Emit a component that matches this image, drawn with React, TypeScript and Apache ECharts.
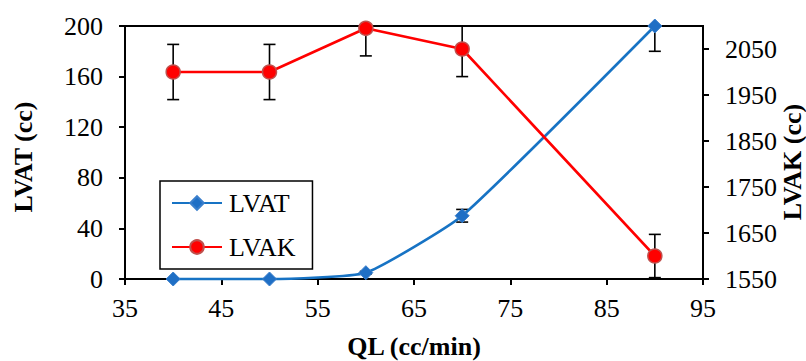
import React, { useEffect, useRef } from "react";
import * as echarts from "echarts";

const FONT = "'Liberation Serif', 'Times New Roman', serif";

const xValues = [40, 50, 60, 70, 90];
const lvatValues = [0, 0, 5, 50, 200];
const lvatErrors = [0, 0, 1, 5, 20];
const lvakValues = [2000, 2000, 2095, 2050, 1600];
const lvakErrors = [60, 60, 60, 60, 47];

const xTicks = [35, 45, 55, 65, 75, 85, 95];
const leftTicks = [0, 40, 80, 120, 160, 200];
const rightTicks = [1550, 1650, 1750, 1850, 1950, 2050];

const X_MIN = 35;
const X_MAX = 95;
const L_MIN = 0;
const L_MAX = 200;
const R_MIN = 1550;
const R_MAX = 2100;

function errorSeries(vals: number[], errs: number[], yAxisIndex: number, yMin: number, yMax: number) {
  return {
    type: "custom",
    yAxisIndex,
    z: 1,
    silent: true,
    data: xValues.map((x, i) => [x, vals[i], errs[i]]),
    renderItem: (params: any, api: any) => {
      const x = api.value(0);
      const y = api.value(1);
      const e = api.value(2);
      if (!e) return { type: "group", children: [] };
      const hi = Math.min(y + e, yMax);
      const lo = Math.max(y - e, yMin);
      const top = api.coord([x, hi]);
      const bot = api.coord([x, lo]);
      const half = 6;
      const st = { stroke: "#000", lineWidth: 1.6 };
      const children: any[] = [
        { type: "line", shape: { x1: top[0], y1: top[1], x2: bot[0], y2: bot[1] }, style: st },
      ];
      if (y + e <= yMax) {
        children.push({ type: "line", shape: { x1: top[0] - half, y1: top[1], x2: top[0] + half, y2: top[1] }, style: st });
      }
      if (y - e >= yMin) {
        children.push({ type: "line", shape: { x1: bot[0] - half, y1: bot[1], x2: bot[0] + half, y2: bot[1] }, style: st });
      }
      return { type: "group", children };
    },
  };
}

export default function App() {
  const ref = useRef<HTMLDivElement>(null);
  useEffect(() => {
    if (!ref.current) return;
    const chart = echarts.init(ref.current, null, { renderer: "svg" });
    const axisLineStyle = { color: "#000", width: 2 };
    const labelStyle = { fontFamily: FONT, fontSize: 26, color: "#000", formatter: (v: number) => String(v) };
    chart.setOption({
      animation: false,
      backgroundColor: "#fff",
      grid: {
        left: 125,
        right: 103,
        top: 26,
        bottom: 82,
        show: true,
        borderColor: "#000",
        borderWidth: 2,
        containLabel: false,
      },
      legend: {
        orient: "vertical",
        left: 160,
        top: 181,
        data: ["LVAT", "LVAK"],
        padding: [9, 17, 9, 11],
        itemGap: 18,
        itemWidth: 50,
        itemHeight: 17,
        borderColor: "#000",
        borderWidth: 1.5,
        backgroundColor: "#fff",
        textStyle: { fontFamily: FONT, fontSize: 26, color: "#000", lineHeight: 24, padding: [0, 0, 0, 2] },
      },
      xAxis: {
        type: "value",
        min: X_MIN,
        max: X_MAX,
        interval: 10,
        axisLine: { show: true, lineStyle: axisLineStyle },
        axisTick: { show: true, length: 6, inside: false, lineStyle: axisLineStyle, customValues: xTicks },
        axisLabel: { ...labelStyle, margin: 16, customValues: xTicks },
        splitLine: { show: false },
      },
      yAxis: [
        {
          type: "value",
          position: "left",
          min: L_MIN,
          max: L_MAX,
          interval: 40,
          axisLine: { show: true, lineStyle: axisLineStyle },
          axisTick: { show: true, length: 6, inside: false, lineStyle: axisLineStyle, customValues: leftTicks },
          axisLabel: { ...labelStyle, margin: 22, customValues: leftTicks },
          splitLine: { show: false },
        },
        {
          type: "value",
          position: "right",
          min: R_MIN,
          max: R_MAX,
          interval: 100,
          axisLine: { show: true, lineStyle: axisLineStyle },
          axisTick: { show: true, length: 6, inside: false, lineStyle: axisLineStyle, customValues: rightTicks },
          axisLabel: { ...labelStyle, margin: 22, customValues: rightTicks },
          splitLine: { show: false },
        },
      ],
      graphic: [
        {
          type: "text",
          x: 414,
          y: 346,
          style: { text: "QL (cc/min)", fontFamily: FONT, fontSize: 26, fontWeight: "bold", fill: "#000", textAlign: "center", textVerticalAlign: "middle" },
        },
        {
          type: "text",
          x: 23,
          y: 157,
          rotation: Math.PI / 2,
          style: { text: "LVAT (cc)", fontFamily: FONT, fontSize: 26, fontWeight: "bold", fill: "#000", textAlign: "center", textVerticalAlign: "middle" },
        },
        {
          type: "text",
          x: 792,
          y: 162,
          rotation: Math.PI / 2,
          style: { text: "LVAK (cc)", fontFamily: FONT, fontSize: 26, fontWeight: "bold", fill: "#000", textAlign: "center", textVerticalAlign: "middle" },
        },
      ],
      series: [
        errorSeries(lvatValues, lvatErrors, 0, L_MIN, L_MAX),
        errorSeries(lvakValues, lvakErrors, 1, R_MIN, R_MAX),
        {
          name: "LVAT",
          type: "line",
          yAxisIndex: 0,
          z: 3,
          smooth: 0.15,
          data: xValues.map((x, i) => [x, lvatValues[i]]),
          symbol: "diamond",
          symbolSize: 14,
          lineStyle: { color: "#1773C4", width: 2.6 },
          itemStyle: { color: "#1F6FC5", borderColor: "#3A7FCC", borderWidth: 1 },
          clip: false,
        },
        {
          name: "LVAK",
          type: "line",
          yAxisIndex: 1,
          z: 3,
          data: xValues.map((x, i) => [x, lvakValues[i]]),
          symbol: "circle",
          symbolSize: 14,
          lineStyle: { color: "#FF0000", width: 2.6 },
          itemStyle: { color: "#FF0000", borderColor: "#C0504D", borderWidth: 1.5 },
          clip: false,
        },
      ],
    });
    return () => chart.dispose();
  }, []);
  return <div ref={ref} style={{ position: "fixed", left: 0, top: 0, width: 806, height: 361 }} />;
}
